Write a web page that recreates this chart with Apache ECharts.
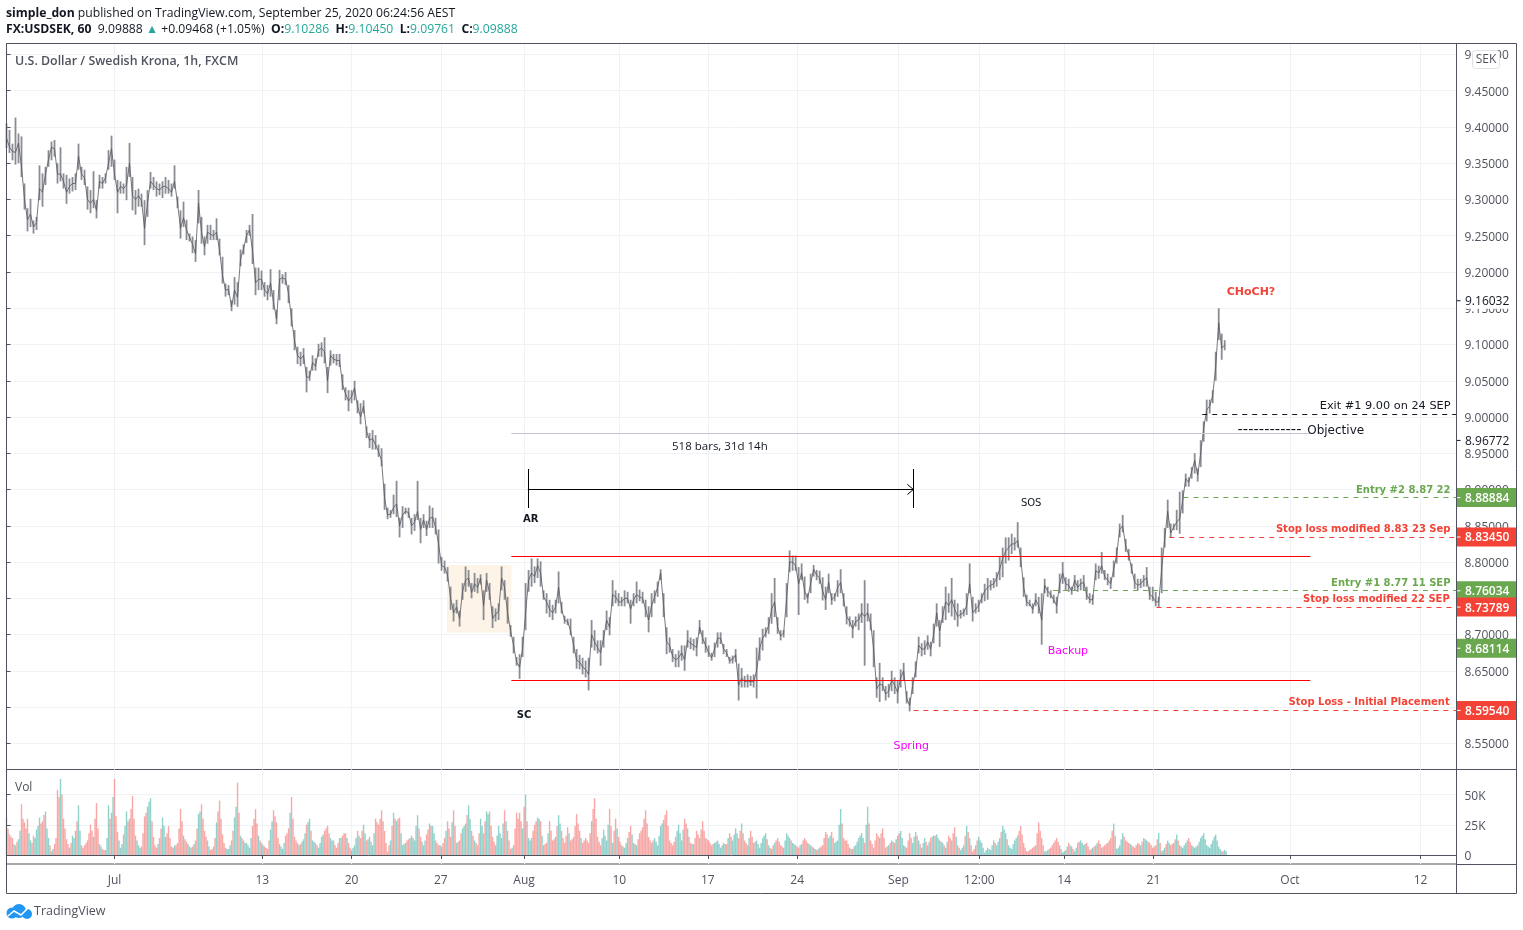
<!DOCTYPE html>
<html lang="en" style="height: 100%">
<head>
  <meta charset="utf-8">
</head>
<body style="height: 100%; margin: 0; background: #fff">
  <div id="container" style="height: 100%"></div>

<script type="text/javascript" src="https://cdn.jsdelivr.net/npm/echarts@6/dist/echarts.min.js"></script>

<script type="text/javascript">
var dom = document.getElementById('container');
var myChart = echarts.init(dom, null, { renderer: 'canvas' });

// bars are sampled every 4 hours on the bar-number axis
var barStep = 4;

var closes = [
9.385,9.372,9.366,9.365,9.378,9.345,9.300,9.272,9.280,9.262,
9.268,9.315,9.310,9.335,9.355,9.372,9.370,9.335,9.335,9.325,
9.310,9.318,9.322,9.322,9.360,9.335,9.330,9.300,9.295,9.300,
9.285,9.325,9.322,9.330,9.350,9.370,9.335,9.310,9.318,9.315,
9.320,9.350,9.305,9.300,9.305,9.298,9.260,9.295,9.325,9.320,
9.315,9.313,9.318,9.318,9.315,9.310,9.325,9.295,9.260,9.275,
9.258,9.248,9.238,9.225,9.295,9.255,9.235,9.255,9.252,9.250,
9.255,9.230,9.195,9.175,9.176,9.152,9.175,9.165,9.218,9.232,
9.250,9.258,9.230,9.185,9.190,9.190,9.175,9.170,9.185,9.158,
9.135,9.190,9.192,9.190,9.170,9.135,9.105,9.085,9.080,9.085,
9.055,9.055,9.075,9.070,9.092,9.095,9.090,9.050,9.085,9.080,
9.078,9.078,9.045,9.032,9.022,9.028,9.040,9.015,9.000,9.015,
8.980,8.968,8.970,8.962,8.952,8.940,8.888,8.865,8.866,8.875,
8.880,8.850,8.865,8.870,8.868,8.850,8.855,8.870,8.845,8.858,
8.845,8.860,8.862,8.848,8.825,8.795,8.793,8.782,8.750,8.730,
8.738,8.722,8.760,8.775,8.778,8.758,8.770,8.765,8.778,8.740,
8.775,8.758,8.722,8.728,8.732,8.778,8.765,8.730,8.705,8.685,
8.662,8.655,8.680,8.730,8.775,8.785,8.780,8.795,8.785,8.752,
8.745,8.735,8.730,8.738,8.765,8.735,8.720,8.718,8.705,8.685,
8.665,8.662,8.655,8.652,8.645,8.700,8.690,8.682,8.675,8.695,
8.720,8.710,8.755,8.752,8.745,8.745,8.750,8.750,8.735,8.748,
8.755,8.752,8.750,8.735,8.720,8.740,8.752,8.765,8.785,8.740,
8.690,8.685,8.670,8.665,8.668,8.675,8.665,8.692,8.688,8.685,
8.682,8.710,8.695,8.685,8.675,8.668,8.680,8.695,8.695,8.680,
8.675,8.664,8.666,8.672,8.630,8.640,8.635,8.636,8.635,8.635,
8.650,8.680,8.695,8.702,8.712,8.735,8.745,8.710,8.698,8.702,
8.750,8.800,8.800,8.795,8.770,8.785,8.760,8.750,8.770,8.790,
8.782,8.778,8.760,8.748,8.772,8.748,8.752,8.765,8.772,8.748,
8.725,8.718,8.708,8.718,8.720,8.730,8.725,8.730,8.715,8.680,
8.625,8.632,8.630,8.618,8.622,8.638,8.630,8.620,8.640,8.650,
8.612,8.602,8.630,8.650,8.685,8.680,8.680,8.690,8.680,8.700,
8.730,8.705,8.725,8.745,8.740,8.748,8.735,8.725,8.728,8.730,
8.740,8.770,8.730,8.735,8.740,8.750,8.760,8.765,8.768,8.770,
8.778,8.790,8.805,8.815,8.820,8.825,8.825,8.830,8.805,8.765,
8.745,8.742,8.735,8.748,8.740,8.720,8.768,8.760,8.755,8.748,
8.740,8.770,8.785,8.770,8.768,8.760,8.775,8.765,8.770,8.772,
8.755,8.748,8.748,8.788,8.785,8.795,8.780,8.775,8.770,8.790,
8.810,8.845,8.850,8.822,8.810,8.790,8.772,8.768,8.770,8.775,
8.778,8.755,8.752,8.745,8.745,8.790,8.832,8.870,8.840,8.848,
8.855,8.860,8.885,8.915,8.910,8.925,8.940,8.920,8.950,8.985,
9.010,9.015,9.030,9.070,9.130,9.095,9.099
];
var highs = [
9.405,9.396,9.377,9.413,9.391,9.387,9.322,9.288,9.301,9.271,
9.276,9.347,9.336,9.345,9.368,9.380,9.382,9.350,9.372,9.336,
9.334,9.329,9.331,9.336,9.377,9.345,9.341,9.318,9.313,9.339,
9.299,9.334,9.331,9.336,9.368,9.388,9.355,9.327,9.325,9.322,
9.345,9.378,9.331,9.313,9.315,9.308,9.299,9.313,9.338,9.331,
9.325,9.322,9.325,9.331,9.327,9.322,9.347,9.304,9.285,9.297,
9.272,9.253,9.249,9.244,9.313,9.276,9.249,9.265,9.265,9.258,
9.274,9.246,9.221,9.184,9.182,9.161,9.193,9.186,9.231,9.238,
9.258,9.265,9.280,9.206,9.206,9.202,9.186,9.182,9.204,9.175,
9.148,9.203,9.197,9.200,9.182,9.150,9.120,9.097,9.090,9.095,
9.069,9.064,9.085,9.081,9.101,9.103,9.110,9.069,9.092,9.087,
9.087,9.087,9.059,9.041,9.037,9.037,9.050,9.023,9.019,9.023,
8.987,8.978,8.982,8.975,8.962,8.957,8.908,8.875,8.872,8.893,
8.912,8.861,8.877,8.875,8.875,8.861,8.866,8.912,8.861,8.866,
8.857,8.878,8.875,8.861,8.845,8.807,8.802,8.793,8.766,8.743,
8.748,8.733,8.771,8.794,8.789,8.771,8.785,8.778,8.783,8.761,
8.785,8.771,8.739,8.736,8.743,8.794,8.775,8.752,8.713,8.697,
8.669,8.673,8.697,8.771,8.789,8.805,8.794,8.805,8.801,8.761,
8.757,8.748,8.741,8.748,8.787,8.745,8.726,8.722,8.722,8.697,
8.680,8.672,8.668,8.664,8.668,8.720,8.706,8.692,8.692,8.706,
8.733,8.724,8.775,8.761,8.757,8.752,8.761,8.759,8.748,8.757,
8.773,8.762,8.759,8.748,8.739,8.757,8.761,8.773,8.790,8.757,
8.710,8.696,8.680,8.673,8.678,8.685,8.685,8.706,8.696,8.694,
8.696,8.720,8.706,8.696,8.685,8.675,8.689,8.703,8.703,8.687,
8.680,8.669,8.671,8.680,8.660,8.654,8.643,8.645,8.643,8.645,
8.682,8.696,8.708,8.710,8.724,8.757,8.778,8.724,8.706,8.706,
8.771,8.816,8.809,8.809,8.793,8.798,8.780,8.757,8.784,8.796,
8.789,8.788,8.779,8.766,8.784,8.757,8.757,8.775,8.790,8.757,
8.739,8.725,8.720,8.725,8.729,8.743,8.775,8.743,8.729,8.706,
8.641,8.661,8.641,8.629,8.632,8.650,8.641,8.637,8.652,8.661,
8.622,8.613,8.641,8.663,8.697,8.688,8.692,8.699,8.690,8.715,
8.743,8.720,8.739,8.766,8.757,8.778,8.748,8.743,8.734,8.736,
8.757,8.798,8.752,8.743,8.748,8.757,8.770,8.778,8.775,8.778,
8.786,8.807,8.820,8.834,8.834,8.839,8.834,8.855,8.820,8.779,
8.755,8.748,8.743,8.757,8.752,8.757,8.777,8.766,8.761,8.755,
8.752,8.784,8.800,8.779,8.777,8.766,8.782,8.775,8.777,8.782,
8.766,8.757,8.755,8.798,8.795,8.814,8.789,8.784,8.779,8.802,
8.820,8.853,8.865,8.832,8.818,8.798,8.784,8.777,8.777,8.782,
8.793,8.766,8.766,8.759,8.752,8.820,8.847,8.886,8.853,8.853,
8.872,8.897,8.899,8.922,8.917,8.931,8.950,8.929,8.968,8.994,
9.024,9.024,9.037,9.090,9.150,9.115,9.106
];
var lows = [
9.371,9.364,9.354,9.348,9.350,9.331,9.286,9.256,9.262,9.253,
9.258,9.299,9.290,9.320,9.345,9.354,9.359,9.322,9.325,9.315,
9.294,9.308,9.311,9.313,9.341,9.327,9.320,9.286,9.281,9.288,
9.274,9.315,9.315,9.322,9.341,9.345,9.327,9.281,9.308,9.308,
9.299,9.331,9.285,9.279,9.290,9.290,9.237,9.276,9.315,9.313,
9.304,9.306,9.302,9.308,9.308,9.304,9.315,9.288,9.246,9.262,
9.244,9.242,9.226,9.214,9.267,9.239,9.223,9.239,9.244,9.244,
9.244,9.223,9.184,9.166,9.168,9.146,9.155,9.152,9.208,9.224,
9.240,9.250,9.211,9.168,9.175,9.175,9.166,9.161,9.166,9.148,
9.128,9.161,9.184,9.182,9.157,9.125,9.092,9.073,9.070,9.073,
9.034,9.050,9.064,9.064,9.083,9.083,9.074,9.033,9.071,9.074,
9.071,9.069,9.037,9.023,9.008,9.019,9.023,9.005,8.990,9.005,
8.971,8.957,8.955,8.955,8.945,8.932,8.872,8.859,8.861,8.866,
8.862,8.834,8.847,8.866,8.861,8.838,8.843,8.858,8.826,8.847,
8.836,8.847,8.847,8.838,8.798,8.788,8.784,8.773,8.734,8.718,
8.729,8.711,8.748,8.759,8.766,8.750,8.759,8.757,8.769,8.720,
8.759,8.748,8.709,8.718,8.720,8.761,8.748,8.715,8.697,8.674,
8.657,8.639,8.669,8.706,8.759,8.766,8.771,8.778,8.766,8.748,
8.729,8.724,8.720,8.729,8.743,8.729,8.715,8.713,8.699,8.674,
8.653,8.652,8.645,8.641,8.623,8.682,8.678,8.674,8.657,8.682,
8.706,8.699,8.739,8.743,8.739,8.739,8.739,8.743,8.715,8.739,
8.743,8.746,8.743,8.724,8.703,8.724,8.743,8.752,8.775,8.724,
8.673,8.675,8.662,8.655,8.655,8.664,8.650,8.682,8.680,8.678,
8.670,8.701,8.687,8.675,8.669,8.664,8.669,8.682,8.687,8.673,
8.669,8.660,8.660,8.662,8.609,8.627,8.627,8.627,8.629,8.627,
8.612,8.664,8.678,8.696,8.701,8.715,8.724,8.701,8.692,8.696,
8.724,8.786,8.788,8.788,8.727,8.775,8.748,8.743,8.757,8.780,
8.775,8.770,8.747,8.734,8.757,8.741,8.746,8.752,8.757,8.739,
8.714,8.711,8.695,8.711,8.706,8.716,8.657,8.718,8.706,8.655,
8.613,8.607,8.622,8.609,8.613,8.622,8.618,8.605,8.627,8.636,
8.605,8.594,8.618,8.641,8.674,8.670,8.672,8.679,8.670,8.688,
8.711,8.683,8.716,8.720,8.730,8.725,8.720,8.711,8.722,8.725,
8.727,8.757,8.718,8.729,8.731,8.743,8.746,8.748,8.761,8.764,
8.766,8.775,8.779,8.798,8.802,8.811,8.816,8.820,8.793,8.752,
8.739,8.739,8.729,8.739,8.729,8.686,8.757,8.752,8.750,8.743,
8.729,8.757,8.770,8.761,8.759,8.755,8.761,8.759,8.761,8.761,
8.748,8.743,8.741,8.775,8.777,8.784,8.775,8.768,8.763,8.779,
8.798,8.834,8.841,8.814,8.802,8.784,8.763,8.761,8.764,8.766,
8.766,8.748,8.746,8.739,8.738,8.757,8.820,8.847,8.834,8.844,
8.844,8.839,8.867,8.904,8.904,8.915,8.922,8.911,8.931,8.966,
8.994,9.005,9.019,9.050,9.106,9.079,9.092
];
// volume, thousands
var volumes = [
31,17,14,8,13,42,27,30,12,16,
21,31,28,36,14,3,9,54,63,30,
13,6,16,20,41,8,8,12,25,15,
43,9,5,4,41,35,63,19,6,17,
36,30,49,16,8,7,32,40,47,15,
6,14,31,15,24,7,8,10,38,16,
11,7,7,12,34,42,20,12,4,7,
27,45,17,6,5,12,31,60,16,12,
10,6,24,38,16,10,7,5,21,37,
27,9,5,16,22,48,15,10,9,13,
25,30,12,10,6,15,20,24,14,12,
6,14,16,18,10,4,8,20,14,25,
12,15,8,30,25,37,20,3,12,35,
28,31,8,10,13,16,12,33,15,8,
17,26,24,12,8,7,14,28,15,37,
10,12,22,26,41,20,12,8,30,18,
36,36,15,8,24,14,37,20,5,8,
35,35,22,50,14,14,25,31,28,8,
10,28,12,15,33,20,10,23,12,15,
34,20,10,14,10,28,47,15,8,21,
12,38,10,30,15,8,6,14,24,10,
8,18,23,37,15,10,14,8,24,29,
37,12,8,15,25,12,30,22,10,9,
20,14,28,14,12,8,10,12,6,10,
9,18,12,22,14,26,12,8,20,10,
12,6,14,18,8,5,10,14,8,6,
18,14,10,8,6,9,14,10,8,6,
4,6,8,19,14,19,10,12,38,14,
12,6,5,8,14,18,10,40,12,6,
18,14,22,6,8,12,10,16,20,8,
6,18,10,19,12,6,14,8,14,16,
17,12,10,6,16,12,23,8,4,8,
24,14,3,8,15,10,2,6,4,12,
8,14,24,18,8,5,12,16,24,10,
3,4,6,8,27,14,3,4,6,10,
14,8,2,4,10,7,3,10,12,8,
10,4,6,8,12,6,8,10,14,26,
5,8,18,12,10,8,6,10,8,14,
12,10,6,8,18,3,6,12,8,10,
17,8,6,10,14,8,6,8,14,18,
8,6,12,17,7,3,4
];
// the hour bars that fall between the sampled columns
var volumesBetween = [
22,15,9,11,20,30,22,18,10,14,
24,26,33,22,8,5,14,48,50,22,
9,10,14,28,20,6,10,18,20,30,
22,7,4,14,30,48,32,12,9,24,
28,38,30,12,6,18,35,44,28,8,
9,22,24,18,14,6,8,22,28,13,
9,6,9,22,36,30,15,7,5,14,
36,30,10,5,8,20,40,35,14,10,
8,14,30,26,12,8,6,12,28,32,
14,7,10,18,35,30,12,8,11,18,
27,20,11,8,10,17,22,18,12,8,
10,14,18,14,6,6,14,16,20,18,
13,11,18,27,30,28,10,8,24,30,
30,18,9,12,14,14,24,22,11,12,
21,24,18,10,8,10,20,22,27,24,
11,18,24,33,30,16,10,18,24,28,
34,24,11,16,18,26,28,12,6,22,
30,28,40,28,12,20,28,30,16,9,
18,20,13,24,26,14,16,18,13,24,
26,14,12,12,18,38,30,11,14,16,
25,24,20,22,11,7,10,19,17,9,
13,20,30,26,12,12,11,16,26,33,
24,10,11,20,18,21,26,15,9,14,
17,21,20,13,10,9,11,9,8,9,
14,15,17,18,20,18,10,14,15,11,
9,10,16,13,6,8,12,11,7,12,
16,12,9,7,8,12,12,9,7,5,
5,7,14,17,16,14,11,25,26,12,
9,5,7,11,16,14,25,26,9,12,
16,18,14,7,10,11,13,18,14,7,
12,14,15,16,9,10,11,11,15,16,
14,11,8,11,14,18,15,6,6,16,
19,8,5,12,12,6,4,5,8,10,
11,19,21,13,6,9,14,20,17,6,
3,5,7,18,20,8,3,5,8,12,
11,5,3,7,8,5,6,11,10,9,
7,5,7,10,9,7,9,12,20,16,
6,13,15,11,9,7,8,9,11,13,
11,8,7,13,10,4,9,10,9,13,
12,7,8,12,11,7,7,11,16,13,
7,9,15,12,5,3,3
];

var dateTickBars = [144, 341, 460, 579, 690, 817, 935, 1054, 1189, 1297, 1410, 1529, 1711, 1885];
var dateTickLabels = ['Jul', '13', '20', '27', 'Aug', '10', '17', '24', 'Sep', '12:00', '14', '21', 'Oct', '12'];
var priceTicks = [8.55, 8.60, 8.65, 8.70, 8.75, 8.80, 8.85, 8.90, 8.95, 9.00, 9.05, 9.10, 9.15, 9.20, 9.25, 9.30, 9.35, 9.40, 9.45, 9.50];
var volumeTicks = [0, 25, 50];

// coloured price tags on the right axis
var tagPrices = [9.16032, 8.96772, 8.88884, 8.83450, 8.76034, 8.73789, 8.68114, 8.59540];
var tagKinds = ['plain', 'plain', 'green', 'red', 'green', 'red', 'green', 'red'];

// trend and level lines: [from bar, from price, to bar, to price]
var redLevels = [[673, 8.80764, 1738, 8.80764], [673, 8.63663, 1738, 8.63663]];
var dashedLevels = [
  [1594, 9.00346, 1933, 9.00346, '#131722'],
  [1569, 8.88901, 1933, 8.88901, '#6aa84f'],
  [1550, 8.83384, 1933, 8.83384, '#f44336'],
  [1395, 8.76075, 1933, 8.76075, '#6aa84f'],
  [1533, 8.73731, 1933, 8.73731, '#f44336'],
  [1209, 8.59526, 1933, 8.59526, '#f44336']
];
var objectiveLine = [673, 8.97727, 1738, 8.97727];
var rulerLines = [
  [695, 8.9283, 695, 8.8745],
  [1209, 8.9283, 1209, 8.8745],
  [695, 8.90004, 1209, 8.90004],
  [1201, 8.9070, 1209, 8.90004],
  [1201, 8.8931, 1209, 8.90004]
];
var consolidationBox = [587, 8.7959, 673, 8.7025];

var noteTexts = ['518 bars, 31d 14h', 'CHoCH?', 'AR', 'SC', 'SOS', 'Backup', 'Spring',
  'Exit #1 9.00 on 24 SEP', '------------', 'Objective', 'Entry #2 8.87 22', 'Stop loss modified 8.83 23 Sep',
  'Entry #1 8.77 11 SEP', 'Stop loss modified 22 SEP', 'Stop Loss - Initial Placement'];
var noteBars = [951, 1659, 699, 690, 1366, 1415, 1206, 1925, 1641, 1734, 1925, 1925, 1925, 1924, 1924];
var notePrices = [8.9600, 9.1738, 8.8607, 8.5904, 8.8828, 8.6780, 8.5476, 9.0165, 8.9828, 8.9828, 8.9007, 8.8469, 8.7718, 8.7504, 8.6076];
var noteKinds = ['ruler', 'redBoldC', 'blackBold', 'blackBold', 'plain', 'pink', 'pink', 'exit', 'dashes', 'objective', 'greenBold', 'redBold', 'greenBold', 'redBold', 'redBold'];

var noteStyleMap = {
  ruler: { fill: '#131722', font: '11.5px "Open Sans"', align: 'center' },
  redBoldC: { fill: '#f44336', font: 'bold 11px "DejaVu Sans"', align: 'center' },
  blackBold: { fill: '#131722', font: 'bold 10px "DejaVu Sans"', align: 'center' },
  plain: { fill: '#131722', font: '10px "DejaVu Sans"', align: 'center' },
  pink: { fill: '#ff00ff', font: '11px "DejaVu Sans"', align: 'center' },
  exit: { fill: '#131722', font: '11.3px "DejaVu Sans"', align: 'right' },
  dashes: { fill: '#131722', font: '14.8px "DejaVu Sans"', align: 'left' },
  objective: { fill: '#131722', font: '12px "DejaVu Sans"', align: 'left' },
  greenBold: { fill: '#6aa84f', font: 'bold 10px "DejaVu Sans"', align: 'right' },
  redBold: { fill: '#f44336', font: 'bold 10px "DejaVu Sans"', align: 'right' }
};
var tagFill = { plain: '#ffffff', green: '#6aa84f', red: '#f44336' };

var axisColor = '#50535e';
var gridColor = '#f0f3f5';
var labelFont = '"Open Sans"';
var barMax = 1933;

function barNo(i) {
  return i * barStep;
}

function pair(seg, style) {
  return [{ coord: [seg[0], seg[1]], lineStyle: style }, { coord: [seg[2], seg[3]] }];
}

var levelLines = [];
redLevels.forEach(function (s) {
  levelLines.push(pair(s, { color: '#ff0000', width: 1, type: 'solid', opacity: 1 }));
});
dashedLevels.forEach(function (s) {
  levelLines.push(pair(s, { color: s[4], width: 1, type: [5, 5], opacity: 1 }));
});
levelLines.push(pair(objectiveLine, { color: '#c4c6cf', width: 1, type: 'solid', opacity: 1 }));
rulerLines.forEach(function (s) {
  levelLines.push(pair(s, { color: '#000000', width: 1, type: 'solid', opacity: 1 }));
});

var upColor = 'rgba(38,166,154,0.5)';
var downColor = 'rgba(239,83,80,0.5)';

var wickData = closes.map(function (c, i) {
  return [barNo(i), lows[i], highs[i]];
});
var closeData = closes.map(function (c, i) {
  return [barNo(i), c];
});
var volumeData = volumes.map(function (v, i) {
  var up = i === 0 || closes[i] >= closes[i - 1];
  return { value: [barNo(i), v], itemStyle: { color: up ? upColor : downColor } };
});
var volumeBetweenData = volumesBetween.map(function (v, i) {
  // close in the upper half of the column's range counts as an up bar
  var up = closes[i] * 2 >= highs[i] + lows[i];
  return { value: [barNo(i) + barStep / 2, v], itemStyle: { color: up ? upColor : downColor } };
});

var option = {
  animation: false,
  textStyle: { fontFamily: labelFont },
  title: [
    {
      left: 6, top: 8, padding: 0,
      text: '{b|simple_don} published on TradingView.com, September 25, 2020 06:24:56 AEST',
      textStyle: {
        color: '#131722', fontSize: 12.2, fontWeight: 'normal', fontFamily: labelFont,
        rich: { b: { fontWeight: 'bold', fontSize: 12.2, color: '#131722', fontFamily: labelFont } }
      }
    },
    {
      left: 6, top: 24, padding: 0,
      text: '{b|FX:USDSEK, 60}  9.09888 {t|▲} +0.09468 (+1.05%)  {b|O:}{t|9.10286}  {b|H:}{t|9.10450}  {b|L:}{t|9.09761}  {b|C:}{t|9.09888}',
      textStyle: {
        color: '#131722', fontSize: 12.2, fontWeight: 'normal', fontFamily: labelFont,
        rich: {
          b: { fontWeight: 'bold', fontSize: 12.2, color: '#131722', fontFamily: labelFont },
          t: { fontSize: 12.2, color: '#26a69a', fontFamily: labelFont }
        }
      }
    },
    {
      left: 15, top: 55, padding: 0,
      text: 'U.S. Dollar / Swedish Krona, 1h, FXCM',
      textStyle: { color: axisColor, fontSize: 12.4, fontWeight: 600, fontFamily: labelFont }
    },
    {
      left: 15, top: 782, padding: 0,
      text: 'Vol',
      textStyle: { color: axisColor, fontSize: 12, fontWeight: 'normal', fontFamily: labelFont }
    }
  ],
  grid: [
    { left: 6.5, width: 1450, top: 43.5, height: 726, show: true, borderColor: axisColor, backgroundColor: 'transparent' },
    { left: 6.5, width: 1450, top: 769.5, height: 94.5, show: true, borderColor: axisColor, backgroundColor: 'transparent' }
  ],
  xAxis: [
    {
      type: 'value', gridIndex: 0, min: 0, max: barMax,
      axisLine: { show: false },
      axisTick: { show: false, customValues: dateTickBars },
      axisLabel: { show: false, customValues: dateTickBars },
      splitLine: { show: true, lineStyle: { color: gridColor, width: 1 } }
    },
    {
      type: 'value', gridIndex: 1, min: 0, max: barMax,
      axisLine: { show: true, lineStyle: { color: axisColor } },
      axisTick: { show: true, length: 4, customValues: dateTickBars, lineStyle: { color: axisColor } },
      axisLabel: {
        show: true, margin: 11, color: axisColor, fontSize: 12, fontFamily: labelFont,
        customValues: dateTickBars,
        hideOverlap: false,
        formatter: function (v) { return dateTickLabels[dateTickBars.indexOf(v)]; }
      },
      splitLine: { show: true, lineStyle: { color: gridColor, width: 1 } }
    }
  ],
  yAxis: [
    {
      type: 'value', gridIndex: 0, position: 'right', min: 8.5139, max: 9.5151,
      axisLine: { show: true, lineStyle: { color: axisColor } },
      axisTick: { show: true, length: 4, customValues: priceTicks, lineStyle: { color: axisColor } },
      axisLabel: {
        show: true, margin: 8, color: axisColor, fontSize: 12, fontFamily: labelFont,
        verticalAlign: 'top', lineHeight: 3,
        customValues: priceTicks, showMinLabel: true, showMaxLabel: true,
        formatter: function (v) { return v.toFixed(5); }
      },
      splitLine: { show: true, lineStyle: { color: gridColor, width: 1 } }
    },
    {
      type: 'value', gridIndex: 1, position: 'right', min: -7.5, max: 70.8,
      axisLine: { show: true, lineStyle: { color: axisColor } },
      axisTick: { show: true, length: 4, customValues: volumeTicks, lineStyle: { color: axisColor } },
      axisLabel: {
        show: true, margin: 8, color: axisColor, fontSize: 12, fontFamily: labelFont,
        verticalAlign: 'top', lineHeight: 3,
        customValues: volumeTicks,
        formatter: function (v) { return v === 0 ? '0' : v + 'K'; }
      },
      splitLine: { show: true, lineStyle: { color: gridColor, width: 1 } }
    }
  ],
  series: [
    {
      // high-low wicks, lighter than the close line above them
      type: 'custom',
      xAxisIndex: 0, yAxisIndex: 0,
      z: 3,
      silent: true,
      encode: { x: 0, y: [1, 2] },
      data: wickData,
      renderItem: function (params, api) {
        var top = api.coord([api.value(0), api.value(2)]);
        var bottom = api.coord([api.value(0), api.value(1)]);
        return {
          type: 'rect',
          shape: { x: top[0] - 0.9, y: top[1], width: 1.8, height: bottom[1] - top[1] },
          style: { fill: '#8a8c93' }
        };
      }
    },
    {
      type: 'line',
      xAxisIndex: 0, yAxisIndex: 0,
      z: 4,
      silent: true,
      showSymbol: false,
      lineStyle: { color: '#55575e', width: 0.8 },
      data: closeData,
      markArea: {
        silent: true,
        itemStyle: { color: '#fdf3e6' },
        data: [[
          { coord: [consolidationBox[0], consolidationBox[1]] },
          { coord: [consolidationBox[2], consolidationBox[3]] }
        ]]
      },
      markLine: {
        silent: true,
        symbol: 'none',
        label: { show: false },
        animation: false,
        data: levelLines
      }
    },
    {
      type: 'bar',
      xAxisIndex: 1, yAxisIndex: 1,
      silent: true,
      barWidth: 1.4,
      barGap: '-100%',
      data: volumeData
    },
    {
      type: 'bar',
      xAxisIndex: 1, yAxisIndex: 1,
      silent: true,
      barWidth: 1.4,
      barGap: '-100%',
      data: volumeBetweenData
    },
    {
      // chart notes
      type: 'custom',
      xAxisIndex: 0, yAxisIndex: 0,
      z: 8,
      silent: true,
      encode: { x: 0, y: 1 },
      data: noteBars.map(function (b, i) { return [b, notePrices[i]]; }),
      renderItem: function (params, api) {
        var p = api.coord([api.value(0), api.value(1)]);
        var st = noteStyleMap[noteKinds[params.dataIndex]];
        return {
          type: 'text',
          x: p[0], y: p[1] + 1,
          style: { text: noteTexts[params.dataIndex], fill: st.fill, font: st.font, align: st.align, verticalAlign: 'middle' }
        };
      }
    },
    {
      // price tags sitting on the right axis
      type: 'custom',
      xAxisIndex: 0, yAxisIndex: 0,
      z: 20,
      silent: true,
      encode: { x: 0, y: 1 },
      data: tagPrices.map(function (p) { return [barMax, p]; }),
      renderItem: function (params, api) {
        var p = api.coord([api.value(0), api.value(1)]);
        var kind = tagKinds[params.dataIndex];
        var plain = kind === 'plain';
        var h = plain ? 16 : 19;
        return {
          type: 'group',
          children: [
            { type: 'rect', shape: { x: p[0] + 0.5, y: p[1] - h / 2, width: 59.5, height: h }, style: { fill: tagFill[kind] } },
            { type: 'line', shape: { x1: p[0], y1: p[1], x2: p[0] + 4, y2: p[1] }, style: { stroke: plain ? '#131722' : '#ffffff', lineWidth: 1 } },
            {
              type: 'text', x: p[0] + 8.5, y: p[1] + 1,
              style: {
                text: api.value(1).toFixed(5), fill: plain ? '#131722' : '#ffffff',
                font: (plain ? '' : '600 ') + '12px ' + labelFont, align: 'left', verticalAlign: 'middle'
              }
            }
          ]
        };
      }
    }
  ],
  graphic: [
    // outer frame of the whole pane block
    { type: 'rect', silent: true, z: 30, shape: { x: 6.5, y: 43.5, width: 1510, height: 850 }, style: { fill: 'none', stroke: axisColor, lineWidth: 1 } },
    { type: 'line', silent: true, z: 30, shape: { x1: 1456.5, y1: 43.5, x2: 1456.5, y2: 893.5 }, style: { stroke: axisColor, lineWidth: 1 } },
    { type: 'line', silent: true, z: 30, shape: { x1: 1456.5, y1: 769.5, x2: 1516.5, y2: 769.5 }, style: { stroke: axisColor, lineWidth: 1 } },
    { type: 'line', silent: true, z: 30, shape: { x1: 1456.5, y1: 864.5, x2: 1516.5, y2: 864.5 }, style: { stroke: axisColor, lineWidth: 1 } },
    // currency button
    { type: 'rect', silent: true, z: 31, shape: { x: 1472.5, y: 50.5, width: 27, height: 18, r: 3 }, style: { fill: '#ffffff', stroke: '#dfe1e6', lineWidth: 1 } },
    { type: 'text', silent: true, z: 32, x: 1486, y: 59.5, style: { text: 'SEK', fill: axisColor, font: '12px ' + labelFont, align: 'center', verticalAlign: 'middle' } },
    // logo
    { type: 'circle', silent: true, z: 30, shape: { cx: 12, cy: 913, r: 5.5 }, style: { fill: '#2196f3' } },
    { type: 'circle', silent: true, z: 30, shape: { cx: 19, cy: 911, r: 7 }, style: { fill: '#2196f3' } },
    { type: 'circle', silent: true, z: 30, shape: { cx: 27, cy: 914, r: 5 }, style: { fill: '#2196f3' } },
    { type: 'polyline', silent: true, z: 31, shape: { points: [[8, 916], [14, 911], [21, 915], [28, 908]] }, style: { fill: 'none', stroke: '#ffffff', lineWidth: 1.5 } },
    { type: 'text', silent: true, z: 30, x: 34, y: 911.5, style: { text: 'TradingView', fill: axisColor, font: '12.5px ' + labelFont, align: 'left', verticalAlign: 'middle' } }
  ]
};

if (option && typeof option === 'object') {
  myChart.setOption(option);
}

window.addEventListener('resize', myChart.resize);
</script>
</body>
</html>
